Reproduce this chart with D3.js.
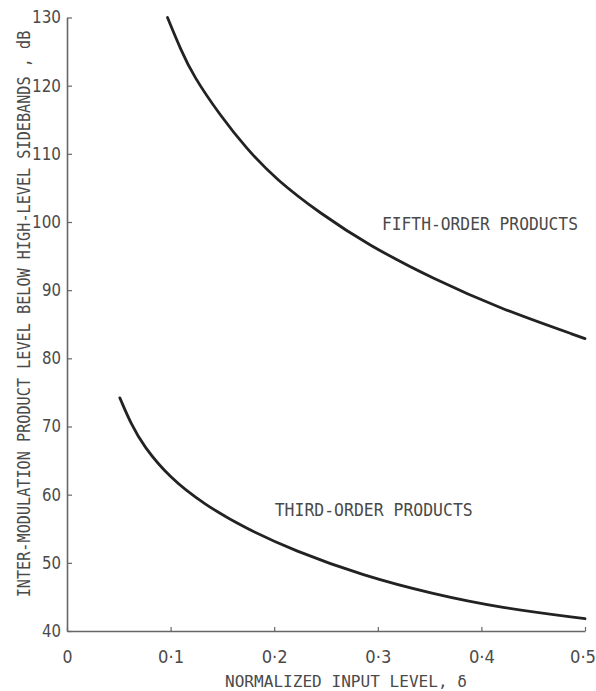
<!DOCTYPE html>
<html>
<head>
<meta charset="utf-8">
<script src="https://cdn.jsdelivr.net/npm/d3@7"></script>
<style>
  html, body { margin: 0; padding: 0; background: #fff; }
  svg { display: block; }
  .lbl { font-family: "DejaVu Sans Condensed", "DejaVu Sans", sans-serif; font-stretch: condensed; fill: #4a4a4a; }
  .mono { font-family: "DejaVu Sans Mono", monospace; fill: #4a4a4a; }
</style>
</head>
<body>
<svg id="chart" width="596" height="691"></svg>
<script>
// Normalized input level (delta) and intermodulation level below sidebands (dB)
const fifthDelta = [0.097, 0.110, 0.122, 0.148, 0.173, 0.202, 0.245, 0.29, 0.354, 0.418, 0.5];
const fifthDb    = [130.0, 125.2, 121.4, 115.6, 110.8, 106.2, 101.2, 96.7, 91.6, 87.3, 82.9];
const thirdDelta = [0.051, 0.062, 0.074, 0.099, 0.132, 0.173, 0.219, 0.286, 0.354, 0.418, 0.5];
const thirdDb    = [74.2, 70.3, 67.1, 62.5, 58.6, 55.0, 51.8, 48.1, 45.4, 43.4, 41.8];

const xTicks = [0, 0.1, 0.2, 0.3, 0.4, 0.5];
const xTickLabels = ["0", "0\u00b71", "0\u00b72", "0\u00b73", "0\u00b74", "0\u00b75"];
const yTicks = [40, 50, 60, 70, 80, 90, 100, 110, 120, 130];

const seriesNames = ["FIFTH-ORDER PRODUCTS", "THIRD-ORDER PRODUCTS"];
const xTitle = "NORMALIZED INPUT LEVEL, \u03b4";
const yTitle = "INTER-MODULATION PRODUCT LEVEL BELOW HIGH-LEVEL SIDEBANDS , dB";

const svg = d3.select("#chart");
const plotLeft = 67, plotRight = 585, plotTop = 17.5, plotBottom = 631;

const x = d3.scaleLinear().domain([0, 0.5]).range([plotLeft, plotRight]);
const y = d3.scaleLinear().domain([40, 130]).range([plotBottom, plotTop]);

const axisColor = "#666";

// Left axis with inward ticks
const gy = svg.append("g")
  .attr("transform", `translate(${plotLeft},0)`)
  .call(d3.axisLeft(y).tickValues(yTicks).tickSizeInner(-5).tickSizeOuter(0).tickPadding(6));
gy.select(".domain").attr("stroke", axisColor).attr("stroke-width", 1.6);
gy.selectAll(".tick line").attr("stroke", axisColor).attr("stroke-width", 1.2);
gy.selectAll(".tick text").attr("class", "lbl").attr("font-size", 17).attr("fill", "#4a4a4a")
  .attr("textLength", d => d >= 100 ? 29 : 19).attr("lengthAdjust", "spacingAndGlyphs");

// Bottom axis with inward ticks
const gx = svg.append("g")
  .attr("transform", `translate(0,${plotBottom})`)
  .call(d3.axisBottom(x).tickValues(xTicks).tickFormat((d, i) => xTickLabels[i])
        .tickSizeInner(-4).tickSizeOuter(0).tickPadding(20));
gx.select(".domain").attr("stroke", axisColor).attr("stroke-width", 1.6);
gx.selectAll(".tick line").attr("stroke", axisColor).attr("stroke-width", 1.2);
gx.selectAll(".tick text").attr("class", "lbl").attr("font-size", 17).attr("fill", "#4a4a4a")
  .attr("textLength", d => d === 0 ? 10 : 26).attr("lengthAdjust", "spacingAndGlyphs")
  .attr("dx", d => d === 0.5 ? -2.5 : 0);

// Curves
const line = d3.line()
  .x(d => x(d[0]))
  .y(d => y(d[1]))
  .curve(d3.curveBasis);

const series = [
  d3.zip(fifthDelta, fifthDb),
  d3.zip(thirdDelta, thirdDb)
];

svg.append("g").selectAll("path")
  .data(series)
  .join("path")
  .attr("d", line)
  .attr("fill", "none")
  .attr("stroke", "#222")
  .attr("stroke-width", 2.8)
  .attr("stroke-linecap", "round");

// Curve labels
svg.append("text").attr("class", "mono")
  .attr("x", x(0.304)).attr("y", y(98.8))
  .attr("font-size", 17)
  .attr("textLength", 196).attr("lengthAdjust", "spacingAndGlyphs")
  .text(seriesNames[0]);

svg.append("text").attr("class", "mono")
  .attr("x", x(0.2005)).attr("y", y(56.8))
  .attr("font-size", 17)
  .attr("textLength", 198).attr("lengthAdjust", "spacingAndGlyphs")
  .text(seriesNames[1]);

// Axis titles
svg.append("text").attr("class", "mono")
  .attr("x", 346).attr("y", 687)
  .attr("text-anchor", "middle")
  .attr("font-size", 16)
  .attr("textLength", 242).attr("lengthAdjust", "spacingAndGlyphs")
  .text(xTitle);

svg.append("text").attr("class", "mono")
  .attr("transform", "translate(30,314) rotate(-90) scale(1,1.15)")
  .attr("text-anchor", "middle")
  .attr("font-size", 15.2)
  .text(yTitle);
</script>
</body>
</html>
